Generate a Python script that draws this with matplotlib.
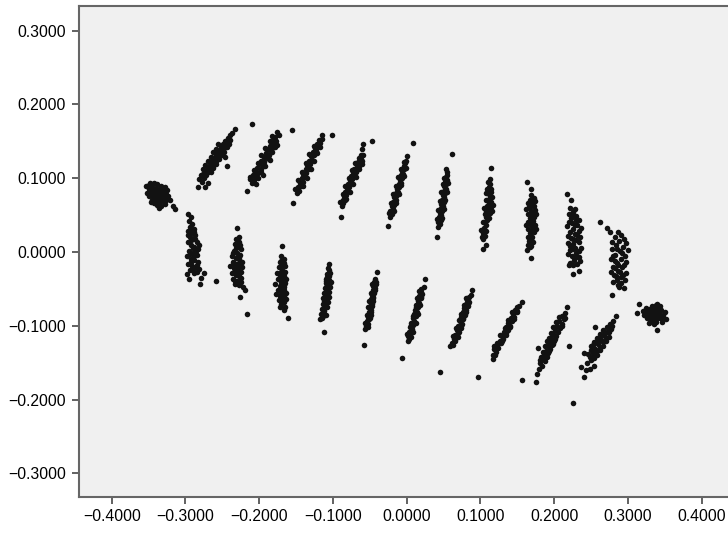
import numpy as np
import matplotlib
matplotlib.use('Agg')
import matplotlib.pyplot as plt
from matplotlib.ticker import FuncFormatter

# points, one list per cluster (x, y)
blob_left = [(-0.353, 0.089), (-0.348, 0.093), (-0.343, 0.094), (-0.338, 0.092), (-0.333, 0.090),
             (-0.328, 0.088), (-0.350, 0.085), (-0.345, 0.088), (-0.340, 0.087), (-0.335, 0.085),
             (-0.330, 0.083), (-0.325, 0.084), (-0.352, 0.080), (-0.347, 0.082), (-0.342, 0.081),
             (-0.337, 0.080), (-0.332, 0.078), (-0.327, 0.079), (-0.349, 0.076), (-0.344, 0.076),
             (-0.339, 0.075), (-0.334, 0.073), (-0.329, 0.074), (-0.324, 0.076), (-0.346, 0.071),
             (-0.341, 0.070), (-0.336, 0.068), (-0.331, 0.069), (-0.326, 0.071), (-0.343, 0.066),
             (-0.338, 0.064), (-0.333, 0.063), (-0.328, 0.065), (-0.336, 0.059), (-0.321, 0.070),
             (-0.317, 0.063), (-0.314, 0.058),
             (-0.346, 0.084), (-0.341, 0.084), (-0.336, 0.082), (-0.331, 0.081), (-0.344, 0.079),
             (-0.339, 0.078), (-0.334, 0.077), (-0.342, 0.073), (-0.337, 0.072), (-0.332, 0.071),
             (-0.339, 0.067), (-0.350, 0.091), (-0.327, 0.075), (-0.347, 0.068)]

upper_1 = [(-0.283, 0.088), (-0.274, 0.088), (-0.278, 0.095), (-0.282, 0.099), (-0.275, 0.100),
           (-0.276, 0.106), (-0.272, 0.104), (-0.273, 0.110), (-0.269, 0.108), (-0.270, 0.114),
           (-0.266, 0.112), (-0.267, 0.118), (-0.263, 0.116), (-0.265, 0.122), (-0.261, 0.121),
           (-0.262, 0.127), (-0.258, 0.124), (-0.259, 0.131), (-0.256, 0.128), (-0.257, 0.134),
           (-0.253, 0.133), (-0.254, 0.138), (-0.250, 0.137), (-0.252, 0.142), (-0.248, 0.141),
           (-0.249, 0.146), (-0.245, 0.145), (-0.246, 0.150), (-0.243, 0.149), (-0.242, 0.154),
           (-0.240, 0.152), (-0.239, 0.158), (-0.237, 0.161), (-0.233, 0.167), (-0.244, 0.117),
           (-0.246, 0.129),
           (-0.279, 0.104), (-0.276, 0.112), (-0.273, 0.118), (-0.270, 0.124), (-0.266, 0.129),
           (-0.263, 0.135), (-0.259, 0.140), (-0.256, 0.146), (-0.265, 0.108), (-0.262, 0.114),
           (-0.259, 0.119), (-0.255, 0.126), (-0.251, 0.131), (-0.248, 0.136), (-0.244, 0.142),
           (-0.241, 0.147), (-0.270, 0.094)]

upper_2 = [(-0.217, 0.083), (-0.210, 0.094), (-0.212, 0.099), (-0.207, 0.097), (-0.209, 0.104),
           (-0.204, 0.102), (-0.206, 0.109), (-0.201, 0.107), (-0.203, 0.114), (-0.198, 0.112),
           (-0.200, 0.119), (-0.195, 0.117), (-0.197, 0.124), (-0.193, 0.122), (-0.194, 0.129),
           (-0.190, 0.127), (-0.191, 0.134), (-0.187, 0.131), (-0.188, 0.139), (-0.184, 0.137),
           (-0.186, 0.144), (-0.182, 0.141), (-0.183, 0.148), (-0.180, 0.146), (-0.180, 0.152),
           (-0.177, 0.150), (-0.178, 0.156), (-0.176, 0.162), (-0.173, 0.159), (-0.155, 0.166),
           (-0.192, 0.117), (-0.185, 0.125), (-0.210, 0.174),
           (-0.212, 0.101), (-0.202, 0.100), (-0.207, 0.111), (-0.197, 0.109), (-0.202, 0.121),
           (-0.197, 0.131), (-0.187, 0.126), (-0.192, 0.141), (-0.182, 0.135), (-0.186, 0.151),
           (-0.176, 0.145), (-0.183, 0.157), (-0.178, 0.142), (-0.195, 0.105), (-0.205, 0.092)]

upper_3 = [(-0.154, 0.066), (-0.149, 0.080), (-0.146, 0.083), (-0.147, 0.088), (-0.143, 0.089),
           (-0.145, 0.094), (-0.141, 0.095), (-0.142, 0.100), (-0.138, 0.101), (-0.140, 0.106),
           (-0.136, 0.107), (-0.137, 0.112), (-0.133, 0.113), (-0.135, 0.118), (-0.131, 0.119),
           (-0.132, 0.124), (-0.128, 0.125), (-0.130, 0.130), (-0.126, 0.131), (-0.127, 0.136),
           (-0.123, 0.137), (-0.124, 0.141), (-0.120, 0.142), (-0.121, 0.146), (-0.118, 0.148),
           (-0.119, 0.152), (-0.115, 0.153), (-0.115, 0.158), (-0.101, 0.158),
           (-0.152, 0.085), (-0.140, 0.090), (-0.147, 0.097), (-0.135, 0.100), (-0.142, 0.109),
           (-0.130, 0.112), (-0.137, 0.121), (-0.126, 0.123), (-0.132, 0.133), (-0.121, 0.134),
           (-0.126, 0.144), (-0.117, 0.143)]

upper_4 = [(-0.0895, 0.047), (-0.088, 0.063), (-0.086, 0.066), (-0.087, 0.070), (-0.084, 0.071),
           (-0.085, 0.076), (-0.082, 0.077), (-0.083, 0.081), (-0.080, 0.083), (-0.081, 0.087),
           (-0.078, 0.088), (-0.079, 0.092), (-0.076, 0.094), (-0.077, 0.098), (-0.074, 0.099),
           (-0.075, 0.103), (-0.071, 0.104), (-0.073, 0.108), (-0.069, 0.109), (-0.071, 0.113),
           (-0.067, 0.114), (-0.068, 0.118), (-0.065, 0.117), (-0.066, 0.122), (-0.063, 0.121),
           (-0.062, 0.126), (-0.060, 0.124), (-0.061, 0.139), (-0.059, 0.147), (-0.0475, 0.150),
           (-0.091, 0.068), (-0.082, 0.072), (-0.087, 0.079), (-0.077, 0.082), (-0.083, 0.089),
           (-0.073, 0.092), (-0.078, 0.100), (-0.069, 0.102), (-0.074, 0.111), (-0.064, 0.112),
           (-0.070, 0.120), (-0.061, 0.119), (-0.064, 0.128), (-0.059, 0.131), (-0.062, 0.132)]

upper_5 = [(-0.025, 0.035), (-0.022, 0.047), (-0.020, 0.051), (-0.022, 0.055), (-0.019, 0.058),
           (-0.020, 0.062), (-0.017, 0.064), (-0.018, 0.068), (-0.015, 0.070), (-0.017, 0.074),
           (-0.014, 0.076), (-0.015, 0.080), (-0.012, 0.082), (-0.013, 0.086), (-0.010, 0.088),
           (-0.011, 0.092), (-0.008, 0.094), (-0.009, 0.098), (-0.006, 0.100), (-0.008, 0.104),
           (-0.005, 0.106), (-0.006, 0.110), (-0.003, 0.112), (-0.004, 0.116), (-0.002, 0.120),
           (-0.001, 0.124), (0.000, 0.130), (0.009, 0.148),
           (-0.024, 0.053), (-0.017, 0.056), (-0.021, 0.066), (-0.014, 0.067), (-0.018, 0.078),
           (-0.011, 0.079), (-0.015, 0.090), (-0.008, 0.091), (-0.012, 0.102), (-0.004, 0.103),
           (-0.008, 0.113), (-0.001, 0.114), (-0.004, 0.122)]

upper_6 = [(0.041, 0.021), (0.043, 0.034), (0.045, 0.038), (0.043, 0.041), (0.046, 0.044),
           (0.044, 0.047), (0.047, 0.050), (0.045, 0.053), (0.048, 0.056), (0.046, 0.059),
           (0.049, 0.062), (0.047, 0.065), (0.050, 0.068), (0.048, 0.071), (0.051, 0.074),
           (0.049, 0.077), (0.052, 0.080), (0.050, 0.083), (0.053, 0.086), (0.051, 0.089),
           (0.053, 0.092), (0.052, 0.095), (0.054, 0.098), (0.053, 0.101), (0.054, 0.104),
           (0.053, 0.113), (0.062, 0.133),
           (0.041, 0.045), (0.048, 0.046), (0.043, 0.057), (0.050, 0.058), (0.045, 0.069),
           (0.052, 0.070), (0.047, 0.081), (0.054, 0.082), (0.049, 0.092), (0.056, 0.094),
           (0.051, 0.100), (0.055, 0.108)]

upper_7 = [(0.103, 0.004), (0.104, 0.018), (0.106, 0.022), (0.104, 0.026), (0.107, 0.029),
           (0.105, 0.033), (0.108, 0.036), (0.106, 0.040), (0.109, 0.043), (0.111, 0.046),
           (0.107, 0.048), (0.110, 0.051), (0.113, 0.053), (0.108, 0.056), (0.112, 0.058),
           (0.114, 0.061), (0.109, 0.063), (0.112, 0.066), (0.115, 0.068), (0.110, 0.071),
           (0.113, 0.074), (0.111, 0.078), (0.114, 0.081), (0.110, 0.084), (0.112, 0.088),
           (0.109, 0.086), (0.113, 0.092), (0.113, 0.099), (0.114, 0.114),
           (0.101, 0.030), (0.103, 0.040), (0.116, 0.056), (0.105, 0.060), (0.117, 0.064),
           (0.107, 0.070), (0.116, 0.075), (0.108, 0.080), (0.115, 0.086), (0.110, 0.095),
           (0.106, 0.052), (0.102, 0.020), (0.108, 0.010)]

upper_8 = [(0.163, 0.095), (0.169, 0.077), (0.167, 0.071), (0.172, 0.073), (0.164, 0.066),
           (0.170, 0.067), (0.174, 0.069), (0.166, 0.061), (0.172, 0.062), (0.168, 0.056),
           (0.174, 0.057), (0.165, 0.051), (0.171, 0.052), (0.167, 0.046), (0.173, 0.047),
           (0.165, 0.041), (0.171, 0.042), (0.168, 0.036), (0.174, 0.037), (0.165, 0.031),
           (0.171, 0.032), (0.167, 0.026), (0.173, 0.027), (0.165, 0.021), (0.170, 0.020),
           (0.166, 0.015), (0.171, 0.014), (0.164, 0.009), (0.169, 0.008), (0.163, 0.003),
           (0.168, -0.008),
           (0.169, 0.063), (0.169, 0.048), (0.170, 0.039), (0.169, 0.028), (0.168, 0.018),
           (0.167, 0.007), (0.162, 0.058), (0.176, 0.052), (0.162, 0.036), (0.175, 0.031),
           (0.168, 0.085)]

upper_9 = [(0.217, 0.078), (0.223, 0.070), (0.220, 0.052), (0.226, 0.054), (0.230, 0.049),
           (0.223, 0.046), (0.229, 0.043), (0.217, 0.035), (0.224, 0.039), (0.231, 0.036),
           (0.226, 0.031), (0.221, 0.027), (0.233, 0.029), (0.228, 0.024), (0.223, 0.019),
           (0.235, 0.021), (0.229, 0.016), (0.219, 0.012), (0.225, 0.011), (0.233, 0.013),
           (0.228, 0.006), (0.222, 0.003), (0.236, 0.005), (0.230, -0.001), (0.224, -0.005),
           (0.233, -0.007), (0.227, -0.011), (0.222, -0.015), (0.231, -0.016), (0.220, -0.017),
           (0.226, -0.030), (0.233, -0.026),
           (0.225, 0.049), (0.233, 0.044), (0.220, 0.040), (0.228, 0.036), (0.236, 0.033),
           (0.219, 0.022), (0.231, 0.023), (0.226, 0.018), (0.222, 0.008), (0.233, 0.001),
           (0.226, 0.004), (0.219, -0.003), (0.229, -0.007), (0.235, -0.012), (0.225, -0.017),
           (0.228, 0.058), (0.222, 0.059)]

upper_10 = [(0.262, 0.040), (0.272, 0.032), (0.276, 0.027), (0.286, 0.027), (0.290, 0.023),
            (0.282, 0.020), (0.295, 0.018), (0.278, 0.014), (0.288, 0.015), (0.298, 0.012),
            (0.284, 0.009), (0.293, 0.007), (0.279, 0.004), (0.300, 0.003), (0.289, 0.001),
            (0.283, -0.004), (0.296, -0.005), (0.277, -0.009), (0.290, -0.010), (0.285, -0.015),
            (0.298, -0.014), (0.280, -0.020), (0.292, -0.021), (0.286, -0.026), (0.297, -0.028),
            (0.281, -0.031), (0.290, -0.034), (0.285, -0.038), (0.288, -0.047), (0.295, -0.049),
            (0.279, -0.058),
            (0.285, 0.004), (0.292, -0.002), (0.280, -0.006), (0.294, -0.018), (0.283, -0.022),
            (0.289, -0.027), (0.277, -0.027), (0.293, -0.031), (0.284, -0.033), (0.296, -0.038),
            (0.280, -0.040), (0.291, -0.042), (0.286, -0.045), (0.287, -0.018), (0.282, -0.012)]

blob_right = [(0.312, -0.083), (0.315, -0.070), (0.320, -0.080), (0.324, -0.076), (0.322, -0.086),
              (0.327, -0.082), (0.330, -0.077), (0.333, -0.073), (0.326, -0.090), (0.331, -0.087),
              (0.335, -0.081), (0.339, -0.078), (0.340, -0.070), (0.337, -0.087), (0.342, -0.084),
              (0.345, -0.079), (0.333, -0.093), (0.338, -0.095), (0.343, -0.090), (0.348, -0.086),
              (0.352, -0.091), (0.329, -0.096), (0.340, -0.106), (0.346, -0.095), (0.336, -0.076),
              (0.344, -0.073), (0.350, -0.082), (0.334, -0.089),
              (0.328, -0.086), (0.332, -0.082), (0.336, -0.084), (0.340, -0.082), (0.344, -0.087),
              (0.339, -0.090), (0.330, -0.091), (0.335, -0.098), (0.341, -0.077), (0.347, -0.090),
              (0.325, -0.080), (0.338, -0.072)]

lower_1 = [(-0.296, 0.052), (-0.293, 0.047), (-0.295, 0.042), (-0.291, 0.038), (-0.294, 0.034),
           (-0.289, 0.031), (-0.296, 0.029), (-0.292, 0.026), (-0.287, 0.023), (-0.294, 0.020),
           (-0.290, 0.017), (-0.285, 0.014), (-0.297, 0.013), (-0.292, 0.010), (-0.288, 0.007),
           (-0.283, 0.004), (-0.295, 0.002), (-0.290, -0.001), (-0.285, -0.004), (-0.298, -0.006),
           (-0.293, -0.009), (-0.288, -0.011), (-0.283, -0.014), (-0.296, -0.016), (-0.291, -0.019),
           (-0.286, -0.021), (-0.281, -0.023), (-0.294, -0.025), (-0.289, -0.028), (-0.275, -0.029),
           (-0.295, -0.037), (-0.280, -0.043),
           (-0.292, 0.030), (-0.288, 0.027), (-0.293, 0.016), (-0.287, 0.018), (-0.290, 0.005),
           (-0.286, 0.001), (-0.294, -0.003), (-0.289, -0.006), (-0.292, -0.013), (-0.284, -0.017),
           (-0.290, -0.023), (-0.284, -0.027), (-0.298, -0.030), (-0.279, -0.035), (-0.297, 0.023),
           (-0.282, 0.010)]

lower_2 = [(-0.230, 0.032), (-0.231, 0.018), (-0.228, 0.014), (-0.233, 0.011), (-0.229, 0.007),
           (-0.225, 0.004), (-0.234, 0.002), (-0.230, -0.001), (-0.226, -0.004), (-0.237, -0.005),
           (-0.232, -0.008), (-0.227, -0.010), (-0.223, -0.013), (-0.236, -0.013), (-0.231, -0.016),
           (-0.226, -0.019), (-0.239, -0.019), (-0.234, -0.022), (-0.229, -0.024), (-0.224, -0.027),
           (-0.237, -0.028), (-0.232, -0.031), (-0.227, -0.033), (-0.235, -0.036), (-0.230, -0.039),
           (-0.225, -0.041), (-0.233, -0.043), (-0.219, -0.052), (-0.226, -0.061), (-0.216, -0.084),
           (-0.259, -0.039),
           (-0.228, 0.021), (-0.226, 0.010), (-0.232, 0.005), (-0.236, -0.001), (-0.228, -0.007),
           (-0.234, -0.016), (-0.228, -0.015), (-0.223, -0.020), (-0.231, -0.021), (-0.234, -0.027),
           (-0.229, -0.030), (-0.224, -0.035), (-0.233, -0.039), (-0.228, -0.045), (-0.222, -0.047)]

lower_3 = [(-0.169, 0.008), (-0.170, -0.006), (-0.167, -0.010), (-0.172, -0.013), (-0.168, -0.016),
           (-0.165, -0.019), (-0.173, -0.021), (-0.169, -0.024), (-0.165, -0.027), (-0.176, -0.028),
           (-0.172, -0.031), (-0.167, -0.033), (-0.163, -0.036), (-0.174, -0.037), (-0.170, -0.040),
           (-0.165, -0.042), (-0.178, -0.043), (-0.172, -0.046), (-0.167, -0.048), (-0.175, -0.051),
           (-0.169, -0.054), (-0.164, -0.056), (-0.172, -0.059), (-0.177, -0.057), (-0.168, -0.062),
           (-0.173, -0.065), (-0.166, -0.068), (-0.171, -0.071), (-0.167, -0.079), (-0.161, -0.089),
           (-0.170, -0.012), (-0.166, -0.015), (-0.170, -0.019), (-0.171, -0.027), (-0.168, -0.030),
           (-0.169, -0.037), (-0.167, -0.045), (-0.171, -0.050), (-0.166, -0.052), (-0.170, -0.057),
           (-0.166, -0.060), (-0.171, -0.063), (-0.169, -0.067), (-0.164, -0.064), (-0.172, -0.075),
           (-0.165, -0.075)]

lower_4 = [(-0.105, -0.016), (-0.106, -0.024), (-0.104, -0.028), (-0.108, -0.030), (-0.105, -0.033),
           (-0.109, -0.036), (-0.106, -0.038), (-0.103, -0.041), (-0.110, -0.042), (-0.107, -0.044),
           (-0.104, -0.047), (-0.111, -0.049), (-0.108, -0.051), (-0.105, -0.054), (-0.112, -0.056),
           (-0.109, -0.058), (-0.106, -0.061), (-0.113, -0.063), (-0.110, -0.065), (-0.107, -0.068),
           (-0.114, -0.070), (-0.111, -0.072), (-0.108, -0.075), (-0.115, -0.077), (-0.112, -0.080),
           (-0.116, -0.084), (-0.113, -0.087), (-0.117, -0.091), (-0.112, -0.109),
           (-0.107, -0.022), (-0.108, -0.034), (-0.110, -0.039), (-0.106, -0.045), (-0.109, -0.047),
           (-0.109, -0.054), (-0.111, -0.060), (-0.108, -0.064), (-0.112, -0.067), (-0.110, -0.074),
           (-0.113, -0.078), (-0.114, -0.083), (-0.110, -0.085), (-0.115, -0.089)]

lower_5 = [(-0.040, -0.027), (-0.043, -0.036), (-0.044, -0.040), (-0.042, -0.043), (-0.045, -0.046),
           (-0.043, -0.049), (-0.046, -0.052), (-0.044, -0.055), (-0.047, -0.058), (-0.045, -0.061),
           (-0.048, -0.064), (-0.046, -0.067), (-0.049, -0.070), (-0.047, -0.073), (-0.050, -0.076),
           (-0.048, -0.079), (-0.051, -0.082), (-0.049, -0.085), (-0.052, -0.088), (-0.051, -0.091),
           (-0.054, -0.094), (-0.052, -0.097), (-0.055, -0.100), (-0.056, -0.104), (-0.0575, -0.126),
           (-0.041, -0.040), (-0.047, -0.044), (-0.043, -0.051), (-0.049, -0.055), (-0.045, -0.062),
           (-0.051, -0.066), (-0.047, -0.071), (-0.053, -0.075), (-0.049, -0.081), (-0.054, -0.085),
           (-0.050, -0.090), (-0.057, -0.096), (-0.053, -0.101)]

lower_6 = [(0.025, -0.037), (0.020, -0.050), (0.019, -0.054), (0.021, -0.057), (0.017, -0.060),
           (0.019, -0.063), (0.015, -0.066), (0.017, -0.069), (0.013, -0.072), (0.015, -0.075),
           (0.011, -0.078), (0.014, -0.081), (0.010, -0.084), (0.012, -0.087), (0.008, -0.090),
           (0.010, -0.093), (0.006, -0.096), (0.009, -0.099), (0.005, -0.102), (0.007, -0.105),
           (0.003, -0.108), (0.005, -0.111), (0.002, -0.114), (0.003, -0.118), (0.002, -0.120),
           (-0.006, -0.144),
           (0.023, -0.047), (0.017, -0.053), (0.020, -0.061), (0.014, -0.063), (0.018, -0.072),
           (0.012, -0.075), (0.016, -0.084), (0.009, -0.087), (0.012, -0.096), (0.006, -0.099),
           (0.009, -0.108), (0.001, -0.111), (0.006, -0.115)]

lower_7 = [(0.088, -0.052), (0.084, -0.061), (0.082, -0.065), (0.085, -0.068), (0.080, -0.070),
           (0.083, -0.073), (0.078, -0.076), (0.081, -0.079), (0.076, -0.082), (0.079, -0.085),
           (0.074, -0.088), (0.077, -0.091), (0.072, -0.094), (0.075, -0.097), (0.070, -0.100),
           (0.073, -0.103), (0.068, -0.106), (0.071, -0.109), (0.066, -0.112), (0.069, -0.115),
           (0.064, -0.118), (0.066, -0.121), (0.061, -0.124), (0.059, -0.128), (0.045, -0.163),
           (0.087, -0.058), (0.081, -0.062), (0.083, -0.070), (0.078, -0.072), (0.080, -0.081),
           (0.074, -0.084), (0.076, -0.090), (0.071, -0.092), (0.073, -0.100), (0.067, -0.103),
           (0.069, -0.110), (0.063, -0.114), (0.066, -0.118), (0.063, -0.126)]

lower_8 = [(0.156, -0.068), (0.150, -0.075), (0.147, -0.079), (0.149, -0.082), (0.144, -0.084),
           (0.146, -0.088), (0.141, -0.090), (0.143, -0.094), (0.138, -0.096), (0.140, -0.100),
           (0.135, -0.102), (0.137, -0.106), (0.132, -0.108), (0.134, -0.112), (0.129, -0.114),
           (0.131, -0.118), (0.126, -0.120), (0.128, -0.124), (0.123, -0.126), (0.124, -0.130),
           (0.119, -0.131), (0.121, -0.135), (0.117, -0.139), (0.117, -0.145), (0.097, -0.169),
           (0.152, -0.073), (0.150, -0.080), (0.143, -0.081), (0.145, -0.091), (0.138, -0.092),
           (0.140, -0.101), (0.133, -0.103), (0.135, -0.110), (0.127, -0.112), (0.129, -0.121),
           (0.122, -0.123), (0.123, -0.128), (0.118, -0.128), (0.120, -0.140)]

lower_9 = [(0.218, -0.075), (0.214, -0.083), (0.210, -0.087), (0.213, -0.091), (0.206, -0.093),
           (0.210, -0.097), (0.204, -0.100), (0.208, -0.103), (0.201, -0.106), (0.205, -0.109),
           (0.199, -0.111), (0.203, -0.114), (0.196, -0.117), (0.200, -0.120), (0.194, -0.122),
           (0.198, -0.125), (0.191, -0.128), (0.195, -0.131), (0.189, -0.134), (0.192, -0.137),
           (0.186, -0.140), (0.190, -0.142), (0.184, -0.145), (0.187, -0.148), (0.181, -0.151),
           (0.178, -0.130), (0.180, -0.159), (0.177, -0.166), (0.175, -0.176), (0.220, -0.127),
           (0.157, -0.173),
           (0.207, -0.088), (0.214, -0.090), (0.203, -0.095), (0.211, -0.100), (0.199, -0.102),
           (0.196, -0.110), (0.193, -0.116), (0.201, -0.118), (0.190, -0.121), (0.197, -0.126),
           (0.187, -0.127), (0.193, -0.134), (0.185, -0.136), (0.189, -0.143), (0.182, -0.143),
           (0.184, -0.155), (0.181, -0.147)]

lower_10 = [(0.284, -0.087), (0.280, -0.093), (0.276, -0.098), (0.271, -0.101), (0.277, -0.104),
            (0.266, -0.106), (0.272, -0.108), (0.256, -0.102), (0.262, -0.111), (0.268, -0.113),
            (0.274, -0.115), (0.258, -0.116), (0.264, -0.119), (0.270, -0.121), (0.254, -0.122),
            (0.260, -0.125), (0.266, -0.127), (0.250, -0.128), (0.256, -0.131), (0.262, -0.133),
            (0.252, -0.137), (0.258, -0.139), (0.248, -0.143), (0.254, -0.144), (0.240, -0.137),
            (0.237, -0.156), (0.243, -0.160), (0.240, -0.170), (0.254, -0.154), (0.226, -0.205),
            (0.278, -0.100), (0.269, -0.110), (0.275, -0.109), (0.264, -0.114), (0.270, -0.117),
            (0.259, -0.120), (0.266, -0.122), (0.262, -0.129), (0.252, -0.126), (0.258, -0.134),
            (0.250, -0.133), (0.254, -0.140), (0.246, -0.138), (0.250, -0.147), (0.245, -0.150),
            (0.248, -0.158)]

clusters = [blob_left, upper_1, upper_2, upper_3, upper_4, upper_5, upper_6, upper_7,
            upper_8, upper_9, upper_10, blob_right, lower_1, lower_2, lower_3, lower_4,
            lower_5, lower_6, lower_7, lower_8, lower_9, lower_10]

x_ticks = [-0.4, -0.3, -0.2, -0.1, 0.0, 0.1, 0.2, 0.3, 0.4]
y_ticks = [-0.3, -0.2, -0.1, 0.0, 0.1, 0.2, 0.3]

plt.rcParams['font.family'] = ['Liberation Sans', 'DejaVu Sans']

fig = plt.figure(figsize=(7.28, 5.34), dpi=100)
ax = fig.add_axes([79 / 728, 37 / 534, 649 / 728, 491 / 534])
ax.set_facecolor('#f0f0f0')

pts = np.array([p for c in clusters for p in c])
ax.scatter(pts[:, 0], pts[:, 1], s=16, c='#121212', linewidths=0)

ax.set_xlim(-0.44434, 0.4357)
ax.set_ylim(-0.33211, 0.33348)
ax.set_xticks(x_ticks)
ax.set_yticks(y_ticks)
fmt = FuncFormatter(lambda v, p: ('%.4f' % v).replace('-', '\u2212') if abs(v) > 1e-9 else '0.0000')
ax.xaxis.set_major_formatter(fmt)
ax.yaxis.set_major_formatter(fmt)

for side in ['left', 'bottom', 'top']:
    ax.spines[side].set_color('#666666')
    ax.spines[side].set_linewidth(1.5)
ax.spines['right'].set_visible(False)
ax.tick_params(direction='out', length=5, width=1.3, color='#555555',
               labelsize=11.3, labelcolor='#000000')
ax.tick_params(axis='x', pad=3.5)
ax.tick_params(axis='y', pad=4.5)

plt.savefig('out.png', dpi=100)
plt.close('all')
